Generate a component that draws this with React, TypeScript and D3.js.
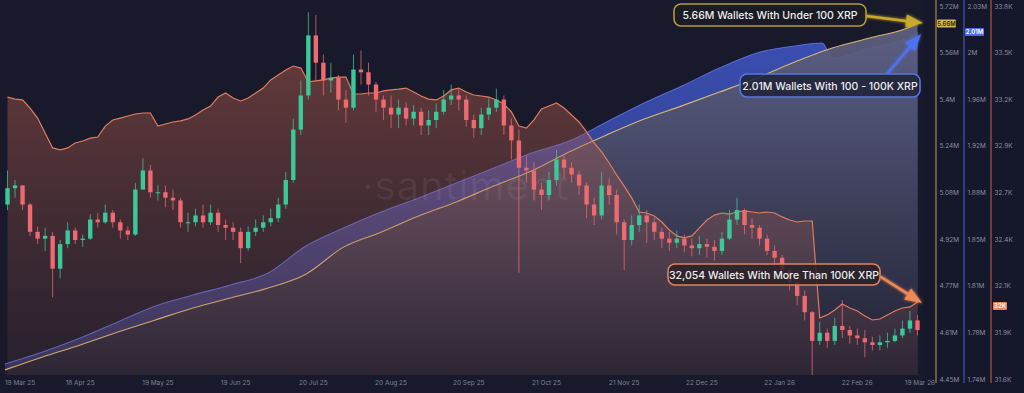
import React from 'react';
import * as d3 from 'd3';

const W = 1024;
const H = 393;

// ---------- DATA ----------
const candleStart = '2025-03-19';
const candleStepDays = 3;
const firstOpen = 2.31;
const priceClose = [2.43,2.45,2.31,2.11,2.06,2.08,1.84,2.02,2.12,2.05,2.06,2.20,2.18,2.25,2.18,2.12,2.09,2.42,2.56,2.40,
  2.40,2.36,2.34,2.18,2.18,2.23,2.18,2.25,2.16,2.14,2.11,1.99,2.11,2.14,2.18,2.21,2.31,2.49,2.86,3.11,
  3.55,3.35,3.22,3.24,3.08,3.02,3.30,3.28,3.19,3.08,3.02,2.97,3.02,2.94,2.99,2.89,2.93,2.99,3.08,3.11,
  3.08,2.93,2.87,2.97,3.02,3.08,2.89,2.78,2.58,2.56,2.42,2.38,2.49,2.64,2.58,2.53,2.45,2.31,2.23,2.45,
  2.38,2.18,2.05,2.16,2.23,2.18,2.11,2.06,2.03,2.06,2.01,1.99,2.02,2.00,1.97,2.06,2.20,2.27,2.16,2.14,
  2.06,1.97,1.92,1.83,1.74,1.64,1.52,1.31,1.37,1.31,1.42,1.39,1.35,1.33,1.30,1.28,1.30,1.31,1.35,1.40,
  1.46,1.39];
const priceHigh = [2.56,2.49,2.45,2.32,2.15,2.14,2.11,2.05,2.18,2.14,2.09,2.24,2.25,2.31,2.27,2.20,2.15,2.47,2.65,2.60,
  2.45,2.45,2.42,2.36,2.25,2.28,2.31,2.31,2.28,2.20,2.18,2.14,2.15,2.20,2.23,2.28,2.36,2.55,2.94,3.22,
  3.72,3.70,3.41,3.35,3.26,3.15,3.41,3.44,3.35,3.21,3.11,3.11,3.08,3.06,3.04,3.02,3.00,3.05,3.15,3.19,
  3.16,3.11,2.97,3.02,3.09,3.16,3.11,2.94,2.86,2.67,2.62,2.47,2.55,2.71,2.67,2.62,2.56,2.47,2.36,2.55,
  2.50,2.42,2.20,2.23,2.31,2.27,2.21,2.14,2.11,2.12,2.09,2.06,2.08,2.06,2.05,2.11,2.27,2.36,2.28,2.21,
  2.16,2.09,2.01,1.94,1.84,1.76,1.68,1.53,1.45,1.40,1.48,1.61,1.42,1.40,1.39,1.34,1.35,1.37,1.40,1.46,
  1.53,1.50];
const priceLow = [2.27,2.36,2.27,2.08,2.02,1.97,1.63,1.77,1.99,2.02,2.00,2.05,2.14,2.17,2.14,2.06,2.05,2.08,2.42,2.36,
  2.34,2.29,2.27,2.14,2.11,2.15,2.14,2.16,2.11,2.05,2.05,1.88,1.97,2.08,2.11,2.15,2.18,2.28,2.47,2.82,
  3.08,3.22,3.11,3.13,3.00,2.91,3.00,3.19,3.11,2.99,2.93,2.87,2.87,2.89,2.89,2.82,2.82,2.87,2.97,3.04,
  3.00,2.88,2.80,2.82,2.93,2.99,2.82,2.64,1.81,2.47,2.34,2.27,2.34,2.45,2.50,2.47,2.38,2.21,2.16,2.20,
  2.31,2.09,1.83,2.01,2.11,2.03,2.05,1.99,1.97,1.99,1.96,1.93,1.94,1.92,1.90,1.94,2.05,2.16,2.09,2.06,
  2.01,1.94,1.86,1.77,1.68,1.57,1.46,1.04,1.28,1.26,1.28,1.33,1.29,1.28,1.19,1.24,1.24,1.26,1.30,1.33,
  1.37,1.35];
// Wallets with more than 100K XRP (same 3-day grid)
const whaleWallets = [33263,33251,33246,33198,33139,33051,32963,32951,32963,32992,33004,33021,33027,33092,33128,33139,33151,33163,33169,33169,
  33092,33104,33116,33122,33134,33157,33187,33210,33263,33287,33257,33240,33257,33287,33316,33364,33393,33423,33446,33434,
  33352,33358,33364,33375,33381,33381,33281,33281,33287,33287,33299,33305,33310,33316,33293,33269,33251,33246,33269,33305,
  33316,33293,33275,33269,33263,33246,33222,33175,33092,33080,33128,33193,33210,33228,33198,33157,33116,33057,32992,32939,
  32874,32803,32738,32668,32585,32579,32561,32526,32479,32444,32432,32444,32491,32538,32567,32579,32573,32585,32591,32585,
  32579,32585,32579,32556,32538,32526,32532,32532,31960,31978,32007,32042,32019,32001,31972,31948,31954,31978,32001,32019,
  32025,32054];

// Wallets with under 100 XRP (millions)
const retailDates = ['2025-03-19','2025-04-03','2025-04-18','2025-05-03','2025-05-18','2025-06-02','2025-06-17','2025-07-02','2025-07-17',
  '2025-08-01','2025-08-16','2025-08-31','2025-09-15','2025-09-30','2025-10-15','2025-10-30','2025-11-14','2025-11-29','2025-12-14',
  '2025-12-29','2026-01-13','2026-01-28','2026-02-12','2026-02-27','2026-03-14','2026-03-18'];
const retailWallets = [4.481,4.525,4.566,4.610,4.651,4.692,4.726,4.760,4.807,4.899,4.950,5.005,5.053,5.107,5.158,5.223,5.281,5.335,5.380,
  5.427,5.475,5.529,5.577,5.611,5.645,5.66];

// Wallets with 100 - 100K XRP (millions)
const midDates = ['2025-03-19','2025-04-03','2025-04-18','2025-05-03','2025-05-18','2025-06-02','2025-06-17','2025-07-02','2025-07-17',
  '2025-08-01','2025-08-16','2025-08-31','2025-09-15','2025-09-30','2025-10-15','2025-10-30','2025-11-14','2025-11-29','2025-12-14',
  '2025-12-29','2026-01-13','2026-01-28','2026-02-08','2026-02-12','2026-02-27','2026-03-14','2026-03-18'];
const midWallets = [1.7517,1.7610,1.7719,1.7843,1.7968,1.8053,1.8131,1.8224,1.8434,1.8574,1.8698,1.8807,1.8924,1.9040,1.9157,1.9250,
  1.9398,1.9546,1.9678,1.9818,1.9935,1.9989,2.0012,1.9896,1.9973,2.0051,2.0098];

const xTickDates = ['2025-03-19','2025-04-18','2025-05-19','2025-06-19','2025-07-20','2025-08-20','2025-09-20','2025-10-21','2025-11-21',
  '2025-12-22','2026-01-22','2026-02-22','2026-03-19'];
const xTickLabels = ['19 Mar 25','18 Apr 25','19 May 25','19 Jun 25','20 Jul 25','20 Aug 25','20 Sep 25','21 Oct 25','21 Nov 25',
  '22 Dec 25','22 Jan 26','22 Feb 26','19 Mar 26'];

const retailTickValues = [5.72,5.56125,5.4025,5.24375,5.085,4.92625,4.7675,4.60875,4.45];
const retailTickLabels = ['5.72M','5.56M','5.4M','5.24M','5.08M','4.92M','4.77M','4.61M','4.45M'];
const midTickValues = [2.03,1.99375,1.9575,1.92125,1.885,1.84875,1.8125,1.77625,1.74];
const midTickLabels = ['2.03M','2M','1.96M','1.92M','1.88M','1.85M','1.81M','1.78M','1.74M'];
const whaleTickValues = [33800,33525,33250,32975,32700,32425,32150,31875,31600];
const whaleTickLabels = ['33.8K','33.5K','33.2K','32.9K','32.7K','32.4K','32.1K','31.9K','31.6K'];

const badgeLabels = ['5.66M', '2.01M', '32K'];
const annotationTexts = [
  '5.66M Wallets With Under 100 XRP',
  '2.01M Wallets With 100 - 100K XRP',
  '32,054 Wallets With More Than 100K XRP',
];

// ---------- HELPERS ----------
const parse = d3.utcParse('%Y-%m-%d');
const FONT = 'Inter, "Open Sans", Roboto, sans-serif';

function Arrow({ x1, y1, x2, y2, color, head = 16, width = 13 }: any) {
  const a = Math.atan2(y2 - y1, x2 - x1);
  const bx = x2 - head * Math.cos(a);
  const by = y2 - head * Math.sin(a);
  const px = (-Math.sin(a) * width) / 2;
  const py = (Math.cos(a) * width) / 2;
  return (
    <g filter="url(#glow)">
      <line x1={x1} y1={y1} x2={bx} y2={by} stroke={color} strokeWidth={2.6} strokeLinecap="round" />
      <polygon points={`${x2},${y2} ${bx + px},${by + py} ${bx - px},${by - py}`} fill={color} />
    </g>
  );
}

export default function App() {
  const plotRight = 924;
  const plotBottom = 375;

  const x = d3.scaleUtc().domain([parse('2025-03-19')!, parse('2026-03-19')!]).range([5, 920]);
  const yPrice = d3.scaleLinear().domain([1.06, 3.81]).range([375, 0]);
  const yRetail = d3.scaleLinear().domain([4.45, 5.72]).range([379, 6]);
  const yMid = d3.scaleLinear().domain([1.74, 2.03]).range([379, 6]);
  const yWhale = d3.scaleLinear().domain([31600, 33800]).range([379, 6]);

  const start = parse(candleStart)!;
  const candleDates = priceClose.map((_, i) => d3.utcDay.offset(start, candleStepDays * i + 1));
  const candles = priceClose.map((c, i) => ({
    date: candleDates[i],
    open: i === 0 ? firstOpen : priceClose[i - 1],
    close: c,
    high: priceHigh[i],
    low: priceLow[i],
  }));

  const whaleData = whaleWallets.map((v, i) => ({ date: candleDates[i], v }));
  const retailData = retailWallets.map((v, i) => ({ date: parse(retailDates[i])!, v }));
  const midData = midWallets.map((v, i) => ({ date: parse(midDates[i])!, v }));

  const whaleLine = d3.line<any>().x((d) => x(d.date)).y((d) => yWhale(d.v)).curve(d3.curveLinear);
  const whaleArea = d3.area<any>().x((d) => x(d.date)).y0(plotBottom).y1((d) => yWhale(d.v)).curve(d3.curveLinear);
  const retailLine = d3.line<any>().x((d) => x(d.date)).y((d) => yRetail(d.v)).curve(d3.curveMonotoneX);
  const retailArea = d3.area<any>().x((d) => x(d.date)).y0(plotBottom).y1((d) => yRetail(d.v)).curve(d3.curveMonotoneX);
  const midLine = d3.line<any>().x((d) => x(d.date)).y((d) => yMid(d.v)).curve(d3.curveMonotoneX);
  const midArea = d3.area<any>().x((d) => x(d.date)).y0(plotBottom).y1((d) => yMid(d.v)).curve(d3.curveMonotoneX);

  const step = x(candleDates[1]) - x(candleDates[0]);
  const bodyW = step * 0.58;
  const up = '#3cc99a';
  const down = '#ee6a70';

  const axisLines = [
    { x: 936, color: '#a08a48', ticks: retailTickValues, labels: retailTickLabels, scale: yRetail },
    { x: 964, color: '#3f58b8', ticks: midTickValues, labels: midTickLabels, scale: yMid },
    { x: 991, color: '#a65a46', ticks: whaleTickValues, labels: whaleTickLabels, scale: yWhale },
  ];

  const badges = [
    { x: 937, y: yRetail(retailWallets[retailWallets.length - 1]), fill: '#d8b64c', text: '#2a2410', label: badgeLabels[0], w: 19 },
    { x: 965, y: yMid(midWallets[midWallets.length - 1]), fill: '#4d6be0', text: '#ffffff', label: badgeLabels[1], w: 19 },
    { x: 993, y: yWhale(whaleWallets[whaleWallets.length - 1]) + 4, fill: '#e8875f', text: '#ffffff', label: badgeLabels[2], w: 14 },
  ];

  return (
    <svg width={W} height={H} style={{ position: 'fixed', left: 0, top: 0, display: 'block' }} fontFamily={FONT}>
      <defs>
        <linearGradient id="gRetail" gradientUnits="userSpaceOnUse" x1="0" y1="0" x2="0" y2={plotBottom}>
          <stop offset="0" stopColor="rgb(100,102,134)" stopOpacity={0.92} />
          <stop offset="1" stopColor="rgb(30,31,48)" stopOpacity={0.95} />
        </linearGradient>
        <linearGradient id="gMid" gradientUnits="userSpaceOnUse" x1="0" y1="0" x2="0" y2={plotBottom}>
          <stop offset="0" stopColor="rgb(62,84,192)" stopOpacity={0.95} />
          <stop offset="0.35" stopColor="rgb(58,76,172)" stopOpacity={0.9} />
          <stop offset="1" stopColor="rgb(56,58,112)" stopOpacity={0.7} />
        </linearGradient>
        <linearGradient id="gWhale" gradientUnits="userSpaceOnUse" x1="0" y1="60" x2="0" y2={plotBottom}>
          <stop offset="0" stopColor="rgb(190,96,76)" stopOpacity={0.45} />
          <stop offset="1" stopColor="rgb(150,80,70)" stopOpacity={0.12} />
        </linearGradient>
        <clipPath id="plotClip">
          <rect x={0} y={0} width={plotRight} height={plotBottom} />
        </clipPath>
        <filter id="glow" x="-50%" y="-50%" width="200%" height="200%">
          <feGaussianBlur stdDeviation="1.6" result="b" />
          <feMerge>
            <feMergeNode in="b" />
            <feMergeNode in="SourceGraphic" />
          </feMerge>
        </filter>
      </defs>

      <rect x={0} y={0} width={W} height={H} fill="#181a2b" />
      <rect x={plotRight} y={0} width={W - plotRight} height={H} fill="#15172a" />

      <g clipPath="url(#plotClip)">
        <path d={midArea(midData)!} fill="url(#gMid)" />
        <path d={midLine(midData)!} fill="none" stroke="#5a74e6" strokeWidth={1.1} strokeOpacity={0.85} />
        <path d={retailArea(retailData)!} fill="url(#gRetail)" />
        <path d={retailLine(retailData)!} fill="none" stroke="#d9b870" strokeWidth={1.1} />
        <path d={whaleArea(whaleData)!} fill="url(#gWhale)" />
        <path d={whaleLine(whaleData)!} fill="none" stroke="#e07c5e" strokeWidth={1.2} />

        <text x={362} y={200} fontSize={40} fill="#ffffff" fillOpacity={0.06} fontWeight={400} letterSpacing={1}>
          ·santiment
        </text>

        {candles.map((d, i) => {
          const cx = x(d.date);
          const color = d.close >= d.open ? up : down;
          const yTop = yPrice(Math.max(d.open, d.close));
          const yBot = yPrice(Math.min(d.open, d.close));
          return (
            <g key={i}>
              <line x1={cx} x2={cx} y1={yPrice(d.high)} y2={yPrice(d.low)} stroke={color} strokeWidth={1} strokeOpacity={0.75} />
              <rect x={cx - bodyW / 2} y={yTop} width={bodyW} height={Math.max(1, yBot - yTop)} fill={color} />
            </g>
          );
        })}
      </g>

      {/* right axes */}
      {axisLines.map((a, k) => (
        <g key={k}>
          <line x1={a.x} x2={a.x} y1={0} y2={383} stroke={a.color} strokeWidth={1.2} />
          {a.ticks.map((t, i) => (
            <text key={i} x={a.x + 3.5} y={a.scale(t) + 2.5} fontSize={6.5} fill="#8c8ea2">
              {a.labels[i]}
            </text>
          ))}
        </g>
      ))}
      {badges.map((b, i) => (
        <g key={i}>
          <rect x={b.x} y={b.y - 4} width={b.w} height={8} fill={b.fill} rx={1} />
          <text x={b.x + b.w / 2} y={b.y + 2.2} fontSize={6} fill={b.text} textAnchor="middle" fontWeight={600}>
            {b.label}
          </text>
        </g>
      ))}

      {/* x axis labels */}
      {xTickDates.map((d, i) => {
        const px = Math.min(932, Math.max(20, x(parse(d)!)));
        return (
          <text key={i} x={px} y={385} fontSize={6.5} fill="#7e8195" textAnchor="middle">
            {xTickLabels[i]}
          </text>
        );
      })}

      {/* annotations */}
      <Arrow x1={866} y1={16} x2={923} y2={23} color="#c9a82c" head={17} width={13} />
      <rect x={674} y={4} width={192} height={22} rx={7} fill="#1c1c26" fillOpacity={0.9} stroke="#b39a3c" strokeWidth={1.6} />
      <text x={770} y={19} fontSize={10.5} fill="#ececec" textAnchor="middle" fontWeight={500}>
        {annotationTexts[0]}
      </text>

      <Arrow x1={887} y1={74} x2={921} y2={34} color="#4d72ee" head={17} width={13} />
      <rect x={740} y={74} width={180} height={23} rx={7} fill="#1e2236" fillOpacity={0.85} stroke="#5876e0" strokeWidth={1.6} />
      <text x={830} y={89.5} fontSize={10.5} fill="#ececec" textAnchor="middle" fontWeight={500}>
        {annotationTexts[1]}
      </text>

      <Arrow x1={881} y1={277} x2={922} y2={303} color="#f08a55" head={17} width={13} />
      <rect x={668} y={264} width={212} height={21} rx={7} fill="#2a2228" fillOpacity={0.85} stroke="#e0845e" strokeWidth={1.6} />
      <text x={774} y={278.5} fontSize={10.5} fill="#ececec" textAnchor="middle" fontWeight={500}>
        {annotationTexts[2]}
      </text>
    </svg>
  );
}
